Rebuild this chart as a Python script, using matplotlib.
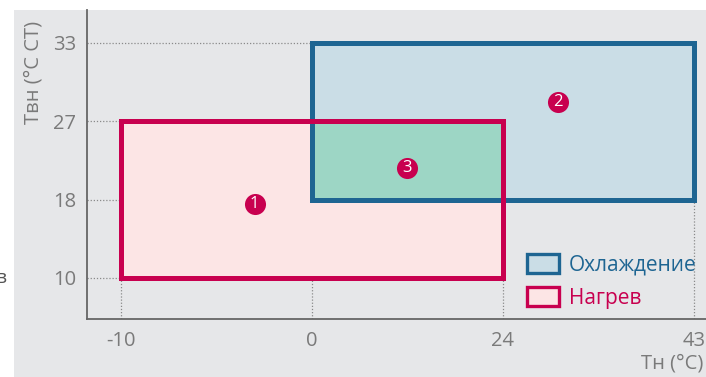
import matplotlib.pyplot as plt
import numpy as np
from matplotlib.patches import Patch, Rectangle

# Outdoor temperature ticks (°C) and indoor temperature ticks (°C DB)
x_ticks = [-10, 0, 24, 43]
y_ticks = [10, 18, 27, 33]

# Operating ranges: (x_min, x_max, y_min, y_max)
heat_range = (-10, 24, 10, 27)
cool_range = (0, 43, 18, 33)

labels = ['Охлаждение', 'Нагрев']
zone_marks = ['1', '2', '3']
zone_x = [-3, 29.5, 12]
zone_y = [17.5, 28.5, 21.6]

BG = '#e6e7e9'
PINK = '#c8004f'
PINK_FILL = '#fce5e5'
BLUE = '#1e6592'
BLUE_FILL = '#cadde6'
GREEN_FILL = '#9dd6c5'
GREY = '#7a7a7a'

plt.rcParams['font.family'] = ['Open Sans', 'DejaVu Sans']


# ticks are evenly spaced on the chart, so map values onto tick index
def px(v):
    return np.interp(v, x_ticks, np.arange(len(x_ticks)))


def py(v):
    return np.interp(v, y_ticks, np.arange(len(y_ticks)))


fig = plt.figure(figsize=(7.06, 3.77), dpi=100, facecolor='white')
fig.patches.append(Rectangle((14 / 706, 0), 1, 367 / 377, transform=fig.transFigure,
                             facecolor=BG, edgecolor='none', zorder=-10))
ax = fig.add_axes([87 / 706, 58 / 377, 619 / 706, 309 / 377])
ax.set_facecolor('none')
ax.set_xlim(-0.178, 3.063)
ax.set_ylim(-0.524, 3.42)


def box(r):
    x0, x1, y0, y1 = px(r[0]), px(r[1]), py(r[2]), py(r[3])
    return x0, y0, x1 - x0, y1 - y0


# fills
for r, fc in [(heat_range, PINK_FILL), (cool_range, BLUE_FILL)]:
    x0, y0, w, h = box(r)
    ax.add_patch(Rectangle((x0, y0), w, h, facecolor=fc, edgecolor='none', zorder=2))

# overlap of both ranges
ov = (max(heat_range[0], cool_range[0]), min(heat_range[1], cool_range[1]),
      max(heat_range[2], cool_range[2]), min(heat_range[3], cool_range[3]))
x0, y0, w, h = box(ov)
ax.add_patch(Rectangle((x0, y0), w, h, facecolor=GREEN_FILL, edgecolor='none', zorder=3))

# outlines
for r, ec, z in [(cool_range, BLUE, 4), (heat_range, PINK, 5)]:
    x0, y0, w, h = box(r)
    ax.add_patch(Rectangle((x0, y0), w, h, facecolor='none', edgecolor=ec,
                           linewidth=3.6, joinstyle='miter', zorder=z))

# dotted guides from the axes up to the nearest range edge
ranges = [heat_range, cool_range]
for v in y_ticks:
    stop = min([r[0] for r in ranges if r[2] <= v <= r[3]])
    ax.plot([ax.get_xlim()[0], px(stop)], [py(v), py(v)], ls=(0, (1, 1.5)),
            color='#8a8a8a', lw=0.9, zorder=1)
for v in x_ticks:
    stop = min([r[2] for r in ranges if r[0] <= v <= r[1]])
    ax.plot([px(v), px(v)], [ax.get_ylim()[0], py(stop)], ls=(0, (1, 1.5)),
            color='#8a8a8a', lw=0.9, zorder=1)

# numbered zone markers
ax.scatter(px(zone_x), py(zone_y), s=230, color=PINK, zorder=6, linewidths=0)
for m, xv, yv in zip(zone_marks, zone_x, zone_y):
    ax.text(px(xv), py(yv), m, color='white', fontsize=12,
            ha='center', va='center', zorder=7)

ax.set_xticks(px(x_ticks))
ax.set_xticklabels([str(v) for v in x_ticks])
ax.set_yticks(py(y_ticks))
ax.set_yticklabels([str(v) for v in y_ticks])
ax.tick_params(length=0, colors=GREY, labelsize=14.5)
ax.tick_params(axis='x', pad=9)
ax.tick_params(axis='y', pad=8)
for s in ['top', 'right']:
    ax.spines[s].set_visible(False)
for s in ['left', 'bottom']:
    ax.spines[s].set_color('#666666')
    ax.spines[s].set_linewidth(1.3)

fig.text(34 / 706, 1 - 72 / 377, 'Твн (°C СТ)', rotation=90, color=GREY,
         fontsize=14.5, ha='center', va='center')
fig.text(703 / 706, 1 - 364 / 377, 'Тн (°C)', color=GREY, fontsize=14.5,
         ha='right', va='center')
fig.text(-0.007, 1 - 278 / 377, 'в', color='#555555', fontsize=14, ha='left', va='center')

handles = [Patch(facecolor=BLUE_FILL, edgecolor=BLUE, linewidth=2.4),
           Patch(facecolor=PINK_FILL, edgecolor=PINK, linewidth=2.4)]
leg = ax.legend(handles, labels, loc='lower right', bbox_to_anchor=(1.002, 0.0),
                frameon=False, fontsize=15, handlelength=1.5, handleheight=1.0,
                handletextpad=0.5, labelspacing=0.55, borderpad=0)
for t, c in zip(leg.get_texts(), [BLUE, PINK]):
    t.set_color(c)

fig.savefig('out.png', dpi=100, facecolor=fig.get_facecolor())
